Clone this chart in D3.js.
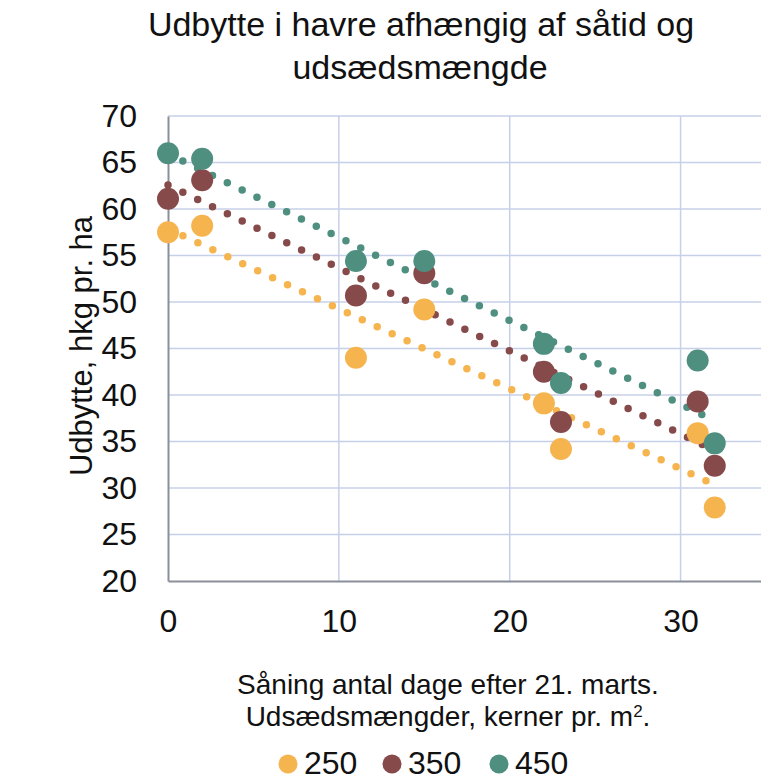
<!DOCTYPE html>
<html>
<head>
<meta charset="utf-8">
<script src="https://cdn.jsdelivr.net/npm/d3@7"></script>
<style>
  body { margin: 0; background: #fff; }
  text { font-family: "Liberation Sans", Arial, sans-serif; fill: #111; }
</style>
</head>
<body>
<div id="container"></div>
<script>
var width = 761,
    height = 782;

// days after 21 March
var days = [0, 2, 11, 15, 22, 23, 31, 32];
var seeds = ["250", "350", "450"];
var yield250 = [57.5, 58.2, 44.0, 49.2, 39.1, 34.2, 35.9, 27.9];
var yield350 = [61.1, 63.1, 50.7, 53.1, 42.5, 37.1, 39.3, 32.4];
var yield450 = [66.0, 65.4, 54.4, 54.4, 45.5, 41.3, 43.7, 34.8];
var colors = ["#f6b44f", "#874a4b", "#4e8f80"];
var xTicks = [0, 10, 20, 30];
var yTicks = [20, 25, 30, 35, 40, 45, 50, 55, 60, 65, 70];

var series = [yield250, yield350, yield450];

var svg = d3.select("#container")
    .append("svg")
    .attr("width", width)
    .attr("height", height);

var x = d3.scaleLinear().domain([0, 35]).range([168, 766]);
var y = d3.scaleLinear().domain([20, 70]).range([581, 116]);

// grid
svg.append("g")
    .selectAll("line.h")
    .data(yTicks.slice(1))
    .enter().append("line")
    .attr("x1", x(0)).attr("x2", width)
    .attr("y1", function (d) { return y(d) })
    .attr("y2", function (d) { return y(d) })
    .attr("stroke", "#c6d0e9").attr("stroke-width", 1.5);

svg.append("g")
    .selectAll("line.v")
    .data(xTicks.slice(1))
    .enter().append("line")
    .attr("x1", function (d) { return x(d) })
    .attr("x2", function (d) { return x(d) })
    .attr("y1", y(70)).attr("y2", y(20))
    .attr("stroke", "#c6d0e9").attr("stroke-width", 1.5);

// axes
var xAxis = svg.append("g")
    .attr("transform", "translate(0," + y(20) + ")")
    .call(d3.axisBottom(x).tickValues(xTicks).tickSize(0).tickPadding(28));
xAxis.select(".domain").attr("stroke", "#8a8f99").attr("stroke-width", 2);
xAxis.selectAll("text").style("font-size", "32px")
    .style("font-family", "Liberation Sans, Arial, sans-serif").attr("fill", "#111");

var yAxis = svg.append("g")
    .attr("transform", "translate(" + x(0) + ",0)")
    .call(d3.axisLeft(y).tickValues(yTicks).tickSize(0).tickPadding(31));
yAxis.select(".domain").attr("stroke", "#8a8f99").attr("stroke-width", 2);
yAxis.selectAll("text").style("font-size", "32px")
    .style("font-family", "Liberation Sans, Arial, sans-serif").attr("fill", "#111");

// trend lines (least squares)
function fit(vals) {
    var mx = d3.mean(days), my = d3.mean(vals);
    var num = d3.sum(days, function (d, i) { return (d - mx) * (vals[i] - my) });
    var den = d3.sum(days, function (d) { return (d - mx) * (d - mx) });
    var b = num / den;
    return { a: my - b * mx, b: b };
}

series.forEach(function (vals, k) {
    var f = fit(vals);
    svg.append("line")
        .attr("x1", x(0)).attr("y1", y(f.a))
        .attr("x2", x(32)).attr("y2", y(f.a + f.b * 32))
        .attr("stroke", colors[k])
        .attr("stroke-width", 7.5)
        .attr("stroke-linecap", "round")
        .attr("stroke-dasharray", "0 16.5");
});

// points
series.forEach(function (vals, k) {
    svg.append("g")
        .selectAll("circle")
        .data(vals)
        .enter().append("circle")
        .attr("cx", function (d, i) { return x(days[i]) })
        .attr("cy", function (d) { return y(d) })
        .attr("r", 11)
        .attr("fill", colors[k]);
});

// title
svg.append("text").attr("x", 421).attr("y", 36).attr("text-anchor", "middle")
    .style("font-size", "34px").text("Udbytte i havre afhængig af såtid og");
svg.append("text").attr("x", 420).attr("y", 79).attr("text-anchor", "middle")
    .style("font-size", "34px").text("udsædsmængde");

// y label
svg.append("text")
    .attr("transform", "translate(92,346) rotate(-90)")
    .attr("text-anchor", "middle")
    .style("font-size", "31px")
    .text("Udbytte, hkg pr. ha");

// x label
svg.append("text").attr("x", 448).attr("y", 694).attr("text-anchor", "middle")
    .style("font-size", "28px").text("Såning antal dage efter 21. marts.");
var l2 = svg.append("text").attr("x", 448).attr("y", 726).attr("text-anchor", "middle")
    .style("font-size", "28px");
l2.append("tspan").text("Udsædsmængder, kerner pr. m");
l2.append("tspan").attr("dy", -9).style("font-size", "17px").text("2");
l2.append("tspan").attr("dy", 9).text(".");

// legend
var legendX = [288, 392, 499];
var leg = svg.append("g").selectAll("g")
    .data(seeds)
    .enter().append("g")
    .attr("transform", function (d, i) { return "translate(" + legendX[i] + ",764)" });
leg.append("circle").attr("r", 9.5).attr("fill", function (d, i) { return colors[i] });
leg.append("text").attr("x", 16).attr("y", 10).style("font-size", "32px")
    .text(function (d) { return d });
</script>
</body>
</html>
